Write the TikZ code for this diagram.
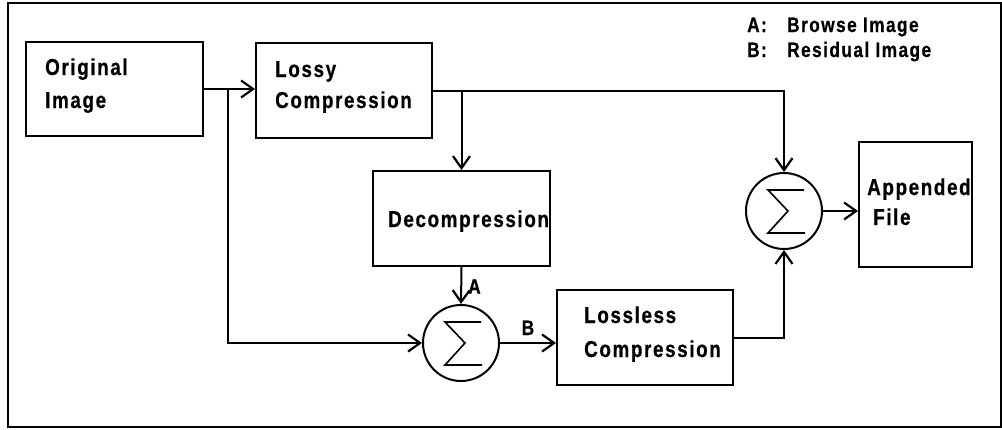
\documentclass[tikz,border=0pt]{standalone}
\usepackage{fontspec}
\newfontfamily\labfont{Liberation Sans}[FakeStretch=0.82,LetterSpace=7,FakeBold=0.6]
\usetikzlibrary{arrows.meta}
\tikzset{
  box/.style={draw, line width=2pt, inner sep=0pt},
  sumnode/.style={draw, circle, line width=2pt, inner sep=0pt, minimum size=76pt},
  arr/.style={line width=2pt, -{Straight Barb[length=12pt,width=17pt,line width=2.2pt]}},
  conn/.style={line width=2pt},
  txt/.style={anchor=base west, inner sep=0pt, font=\labfont\bfseries\fontsize{23}{26}\selectfont},
  small/.style={inner sep=0pt, font=\labfont\bfseries\fontsize{21}{24}\selectfont},
}
\newcommand\sigmamark[1]{%
  \draw[line width=1.6pt, line join=miter]
    ([shift={(20,-21)}]#1.center) -- ([shift={(-16,-21)}]#1.center)
    -- ([shift={(4,0)}]#1.center) -- ([shift={(-16,22)}]#1.center)
    -- ([shift={(21,22)}]#1.center);}
\begin{document}
\begin{tikzpicture}[x=1pt,y=-1pt]
\useasboundingbox (0,0) rectangle (1002,429);
\fill[white] (0,0) rectangle (1002,429);
\draw[line width=2pt] (8,3) rectangle (1001,427);

% boxes
\node[box, minimum width=177pt, minimum height=94pt] (orig) at (114.5,89) {};
\node[box, minimum width=176pt, minimum height=95pt] (lossy) at (344,90.5) {};
\node[box, minimum width=177pt, minimum height=95pt] (decomp) at (461.5,218.5) {};
\node[box, minimum width=176pt, minimum height=95pt] (lossless) at (645,337.5) {};
\node[box, minimum width=113pt, minimum height=125pt] (append) at (915.5,204.5) {};
\node[sumnode] (s1) at (461,343) {};
\node[sumnode] (s2) at (784,211) {};
\sigmamark{s1}
\sigmamark{s2}

% texts
\node[txt] (t1) at (45,75) {Original};
\node[txt] (t2) at (45,108) {Image};
\node[txt] (t3) at (275,77) {Lossy};
\node[txt] (t4) at (275,108) {Compression};
\node[txt] (t5) at (388,227) {Decompression};
\node[txt] (t6) at (584,323) {Lossless};
\node[txt] (t7) at (584,357) {Compression};
\node[txt] (t8) at (867,195) {Appended};
\node[txt] (t9) at (873,225) {File};

% legend
\node[small, anchor=base west] (legA) at (747,32) {\makebox[40pt][l]{A:}Browse Image};
\node[small, anchor=base west] (legB) at (747,57) {\makebox[40pt][l]{B:}Residual Image};

% connectors
\coordinate (j) at (228,89);
\draw[arr] (orig.east) -- (orig.east -| lossy.west);
\draw[arr] (j) |- (s1.west);
\draw[arr] (lossy.east) -| (s2.north);
\draw[arr] (lossy.east -| decomp.north) -- (decomp.north);
\draw[arr] (decomp.south) -- node[small, right, xshift=6pt, yshift=-1pt] (la) {A} (s1.north);
\draw[arr] (s1.east) -- node[small, above, yshift=7pt] (lb) {B} (s1.east -| lossless.west);
\draw[arr] (lossless.east) -| (s2.south);
\draw[arr] (s2.east) -- (s2.east -| append.west);
\end{tikzpicture}
\end{document}
